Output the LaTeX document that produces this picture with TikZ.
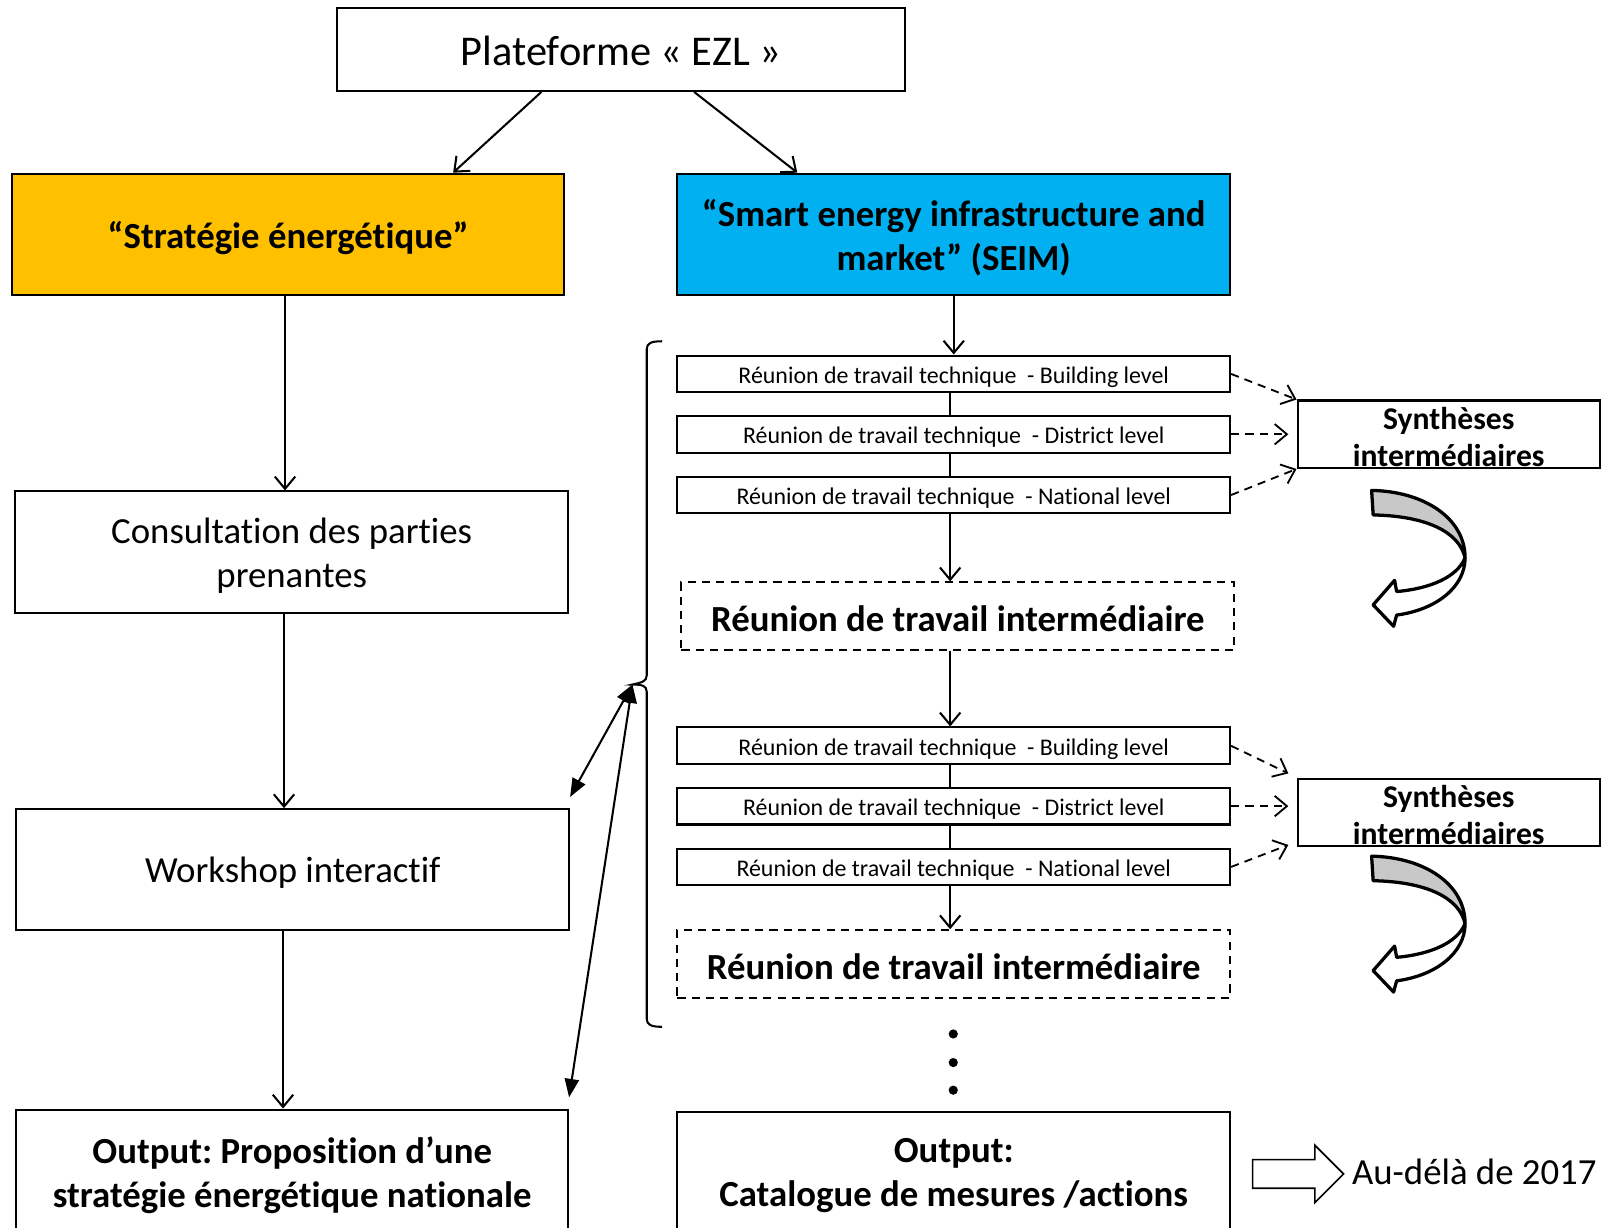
\documentclass[tikz,border=0pt]{standalone}
\usepackage{fontspec}
\setmainfont{Carlito}[Ligatures={NoCommon}, RawFeature={-liga;-clig;-calt}]
\usetikzlibrary{arrows.meta,calc}
\definecolor{stratfill}{HTML}{FFC000}
\definecolor{seimfill}{HTML}{00B0F0}
\definecolor{bandgray}{HTML}{C8C8C8}
\frenchspacing

\begin{document}
\begin{tikzpicture}[x=0.5pt,y=-0.5pt,
  frame/.style={draw=black, line width=1pt, inner sep=0pt, minimum width=270.5pt},
  txt/.style={inner sep=0pt, align=center, font=\fontsize{18pt}{21.5pt}\selectfont},
  btxt/.style={inner sep=0pt, align=center, font=\bfseries\fontsize{18pt}{21.5pt}\selectfont},
  ttxt/.style={inner sep=0pt, font=\fontsize{11.7pt}{14pt}\selectfont},
  stxt/.style={inner sep=0pt, align=center, font=\bfseries\fontsize{15.5pt}{18pt}\selectfont},
  tech/.style={frame, minimum height=18pt},
  inter/.style={frame, dashed, dash pattern=on 4pt off 3pt, minimum height=33pt},
  synth/.style={frame, minimum width=148pt, minimum height=33pt},
  arr/.style={line width=1pt, -{Straight Barb[length=6pt,width=10pt]}},
  link/.style={line width=1pt},
  darr/.style={line width=0.9pt, dash pattern=on 4pt off 3pt,
    -{Straight Barb[length=6pt,width=10pt]}},
  dbl/.style={line width=1pt, {Triangle[length=9pt,width=7pt]}-{Triangle[length=9pt,width=7pt]}},
  turnarrow/.pic={
    \filldraw[fill=bandgray, line width=1.6pt, line join=round]
      (0.5,0) .. controls (53,1) and (92,28) .. (92,66)
      .. controls (86,40) and (53,25) .. (2,24) -- cycle;
    \filldraw[fill=white, line width=1.6pt, line join=round]
      (92,66) .. controls (92,95) and (63,117) .. (25,122)
      -- (22,133) -- (2,112) -- (23,88) -- (25,99)
      .. controls (58,96) and (84,85) .. (92,66) -- cycle;
  }
]
\useasboundingbox (0,0) rectangle (1568,1201);
\clip (0,0) rectangle (1568,1201);

% top platform
\node[frame, minimum width=278pt, minimum height=40.5pt] (plat) at (608,48.5) {};
\node[txt, font=\fontsize{20.75pt}{24pt}\selectfont] (plat-t) at ($(plat)+(0,1.5)$) {Plateforme « EZL »};

% left column
\node[frame, fill=stratfill, minimum width=270pt, minimum height=59.5pt] (strat) at (282,229.5) {};
\node[btxt] (strat-t) at ($(strat)+(0,3.5)$) {“Stratégie énergétique”};
\node[frame, minimum height=59.5pt] (cons) at (285.5,540.5) {};
\node[txt] (cons-t) at ($(cons)+(0,3.5)$) {Consultation des parties\\prenantes};
\node[frame, minimum height=59pt] (work) at (286.5,851) {};
\node[txt] (work-t) at ($(work)+(0,3.5)$) {Workshop interactif};
\node[frame, minimum width=270pt, minimum height=62pt] (outL) at (286,1148) {};
\node[btxt] (outL-t) at ($(outL)+(0,2.5)$) {Output: Proposition d’une\\stratégie énergétique nationale};

% right column
\node[frame, fill=seimfill, minimum height=59.5pt] (seim) at (933.5,229.5) {};
\node[btxt] (seim-t) at ($(seim)+(0,3)$) {“Smart energy infrastructure and\\market” (SEIM)};

\node[tech] (b1) at (933.5,366)   {};
\node[tech] (d1) at (933.5,425)   {};
\node[tech] (n1) at (933.5,484.5) {};
\node[inter] (int1) at (937.5,603) {};
\node[tech] (b2) at (933.5,730)   {};
\node[tech] (d2) at (933.5,789)   {};
\node[tech] (n2) at (933.5,848.5) {};
\node[inter] (int2) at (933.5,943.5) {};
\node[frame, minimum height=62pt] (outR) at (933.5,1150) {};

\foreach \n/\lvl in {b1/Building, d1/District, n1/National, b2/Building, d2/District, n2/National}
  \node[ttxt] (\n-t) at ($(\n)+(0,3)$) {Réunion de travail technique\ \ - \lvl\ level};
\node[btxt] (int1-t) at ($(int1)+(0,2.5)$) {Réunion de travail intermédiaire};
\node[btxt] (int2-t) at ($(int2)+(0,2.5)$) {Réunion de travail intermédiaire};
\node[btxt] (outR-t) at ($(outR)+(0,0.5)$) {Output:\\Catalogue de mesures /actions};

\node[synth] (syn1) at (1418,425) {};
\node[synth] (syn2) at (1418,795) {};
\node[stxt] (syn1-t) at ($(syn1)+(0,2.5)$) {Synthèses\\intermédiaires};
\node[stxt] (syn2-t) at ($(syn2)+(0,2.5)$) {Synthèses\\intermédiaires};

% continuation dots
\foreach \yy [count=\i] in {1012,1040,1067}
  \fill (933,\yy) circle[radius=4.5] coordinate (dot\i);

% arrows from the platform
\draw[arr] ($(plat.south west)!0.36!(plat.south east)$) -- ($(strat.north west)!0.798!(strat.north east)$);
\draw[arr] ($(plat.south west)!0.628!(plat.south east)$) -- ($(seim.north west)!0.218!(seim.north east)$);

% left chain
\draw[arr] ($(strat.south)+(-3,0)$) -- ($(strat.south |- cons.north)+(-3,0)$);
\draw[arr] ($(cons.south)+(-7.5,0)$) -- ($(cons.south |- work.north)+(-7.5,0)$);
\draw[arr] ($(work.south)+(-9.5,0)$) -- ($(work.south |- outL.north)+(-9.5,0)$);

% right chain
\draw[arr] (seim.south) -- (b1.north);
\draw[link] (b1.south -| 930,0) -- (d1.north -| 930,0);
\draw[link] (d1.south -| 930,0) -- (n1.north -| 930,0);
\draw[arr] (n1.south -| 930,0) -- (int1.north -| 930,0);
\draw[arr] (int1.south -| 930,0) -- (b2.north -| 930,0);
\draw[link] (b2.south -| 930,0) -- (d2.north -| 930,0);
\draw[link] (d2.south -| 930,0) -- (n2.north -| 930,0);
\draw[arr] (n2.south -| 930,0) -- (int2.north -| 930,0);

% dashed feeds into the syntheses
\coordinate (s2in) at ($(syn2.west)+(-8,0)$);
\draw[darr] (b1.east) -- (syn1.north west);
\draw[darr] (d1.east) -- ($(syn1.west)+(-8,0)$);
\draw[darr] (n1.east) -- (syn1.south west);
\draw[darr] (b2.east) -- ($(syn2.north west)+(-8,-4)$);
\draw[darr] (d2.east) -- (d2.east -| s2in);
\draw[darr] (n2.east) -- ($(syn2.south west)+(-8,-2)$);

% curved return arrows
\pic at (1342,480) {turnarrow};
\pic at (1342,838) {turnarrow};

% brace grouping the working sessions
\coordinate (brtip) at (619,670);
\draw[line width=1pt]
  (648,334) .. controls (637,334) and (633,336) .. (633,342)
  -- (633,661) .. controls (633,667) and (628,668) .. (brtip)
  .. controls (628,670) and (633,671) .. (633,677)
  -- (633,997) .. controls (633,1003) and (637,1005) .. (648,1005);

% links between the brace and the left column
\draw[dbl] ($(work.north east)+(0,-11)$) -- (brtip);
\draw[dbl] ($(outL.north east)+(0,-11)$) -- (brtip);

% outlook arrow
\draw[line width=0.8pt, line join=miter]
  (1226,1135) -- (1287,1135) -- (1287,1121) -- (1315,1149)
  -- (1287,1177) -- (1287,1163) -- (1226,1163) -- cycle;
\node[anchor=west, txt] (beyond) at (1323,1146.5) {Au-délà de 2017};
\end{tikzpicture}
\end{document}
